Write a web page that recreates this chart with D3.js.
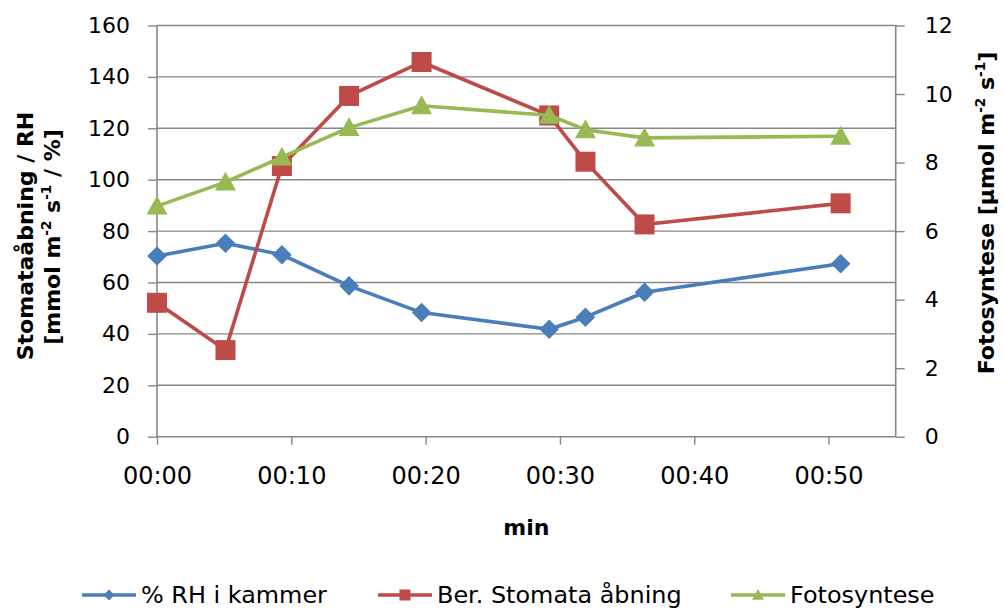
<!DOCTYPE html>
<html>
<head>
<meta charset="utf-8">
<script src="https://cdn.jsdelivr.net/npm/d3@7"></script>
<style>
  html, body { margin: 0; padding: 0; background: #fff; }
  svg { display: block; font-family: "DejaVu Sans", Verdana, sans-serif; }
</style>
</head>
<body>
<svg id="chart" width="1004" height="609"></svg>
<script>
// ---- data ----
const timesMin = [0, 5.1, 9.3, 14.3, 19.7, 29.2, 31.9, 36.3, 50.9];
const rhValues = [70.3, 75.3, 70.8, 58.7, 48.3, 41.8, 46.5, 56.2, 67.3];
const stomataValues = [52.1, 33.7, 105.3, 132.6, 145.8, 125.0, 107.0, 82.6, 90.8];
const fotoValues = [6.73, 7.43, 8.16, 9.02, 9.66, 9.38, 8.96, 8.72, 8.77];
const xTicks = [0, 10, 20, 30, 40, 50];
const leftTicks = [0, 20, 40, 60, 80, 100, 120, 140, 160];
const rightTicks = [0, 2, 4, 6, 8, 10, 12];
const seriesNames = ["% RH i kammer", "Ber. Stomata åbning", "Fotosyntese"];

// ---- layout ----
const svg = d3.select("#chart");
const L = 157, R = 895.7, T = 25.5, B = 436.7;
const gridColor = "#878787";
const colors = ["#4A7EBB", "#BE4B48", "#98B954"];
const fs = 22;

const x = d3.scaleLinear().domain([0, 55]).range([L, R]);
const yL = d3.scaleLinear().domain([0, 160]).range([B, T]);
const yR = d3.scaleLinear().domain([0, 12]).range([B, T]);

// gridlines
svg.append("g").selectAll("line").data(leftTicks.filter(d => d > 0)).join("line")
  .attr("x1", L).attr("x2", R).attr("y1", d => yL(d)).attr("y2", d => yL(d))
  .attr("stroke", gridColor).attr("stroke-width", 1.4);

// left axis
const gL = svg.append("g").attr("transform", `translate(${L},0)`)
  .call(d3.axisLeft(yL).tickValues(leftTicks).tickSize(9).tickPadding(18));
// right axis
const gR = svg.append("g").attr("transform", `translate(${R},0)`)
  .call(d3.axisRight(yR).tickValues(rightTicks).tickSize(9).tickPadding(20));
// bottom axis
const fmt = m => "00:" + String(m).padStart(2, "0");
const gB = svg.append("g").attr("transform", `translate(0,${B})`)
  .call(d3.axisBottom(x).tickValues(xTicks).tickFormat(fmt).tickSize(8).tickPadding(22));

[gL, gR, gB].forEach(g => {
  g.select(".domain").attr("stroke", gridColor).attr("stroke-width", 1.6);
  g.selectAll(".tick line").attr("stroke", gridColor).attr("stroke-width", 1.4);
  g.selectAll(".tick text").attr("font-size", fs).attr("fill", "#000")
    .attr("font-family", "DejaVu Sans, Verdana, sans-serif");
});
gB.selectAll(".tick text").attr("font-size", 24);
gL.select(".domain").attr("d", `M0,${B}V${T}`);
gR.select(".domain").attr("d", `M0,${B}V${T}`);
gB.select(".domain").attr("d", `M${L},0H${R}`);

// series
const series = [
  { vals: rhValues, y: yL, shape: "diamond" },
  { vals: stomataValues, y: yL, shape: "square" },
  { vals: fotoValues, y: yR, shape: "triangle" }
];

function markerPath(shape, s) {
  if (shape === "diamond") return `M0,${-s}L${s},0L0,${s}L${-s},0Z`;
  if (shape === "square") return `M${-s},${-s}H${s}V${s}H${-s}Z`;
  const h = s * 1.8;
  return `M0,${-h * 0.55}L${s},${h * 0.45}L${-s},${h * 0.45}Z`;
}
const markerSize = { diamond: 9.8, square: 10, triangle: 10.5 };

series.forEach((s, i) => {
  const pts = timesMin.map((t, j) => [x(t), s.y(s.vals[j])]);
  const g = svg.append("g");
  g.append("path").attr("d", d3.line()(pts)).attr("fill", "none")
    .attr("stroke", colors[i]).attr("stroke-width", 3.6).attr("stroke-linejoin", "round");
  g.selectAll("path.m").data(pts).join("path").attr("class", "m")
    .attr("transform", d => `translate(${d[0]},${d[1]})`)
    .attr("d", markerPath(s.shape, markerSize[s.shape]))
    .attr("fill", colors[i]);
});

// axis titles
svg.append("text").attr("x", (L + R) / 2).attr("y", 535).attr("text-anchor", "middle")
  .attr("font-size", fs).attr("font-weight", "bold").text("min");

function addSup(textSel, parts) {
  let raised = false;
  parts.forEach(p => {
    const ts = textSel.append("tspan").text(p.t);
    if (p.sup) {
      ts.attr("font-size", fs * 0.62).attr("dy", -9);
      raised = true;
    } else if (raised) {
      ts.attr("dy", 9);
      raised = false;
    }
  });
}

svg.append("text").attr("transform", "translate(33,236) rotate(-90)")
  .attr("text-anchor", "middle").attr("font-size", fs).attr("font-weight", "bold")
  .text("Stomataåbning / RH");
const lt2 = svg.append("text").attr("transform", "translate(60,237) rotate(-90)")
  .attr("text-anchor", "middle").attr("font-size", fs).attr("font-weight", "bold");
addSup(lt2, [{ t: "[mmol m" }, { t: "-2", sup: true }, { t: " s" }, { t: "-1", sup: true }, { t: " / %]" }]);

const rt = svg.append("text").attr("transform", "translate(994,213) rotate(-90)")
  .attr("text-anchor", "middle").attr("font-size", fs).attr("font-weight", "bold");
addSup(rt, [{ t: "Fotosyntese [µmol m" }, { t: "-2", sup: true }, { t: " s" }, { t: "-1", sup: true }, { t: "]" }]);

// legend
const legendX = [82, 378, 731];
const legendY = 595;
const legMarker = { diamond: 5.5, square: 5.5, triangle: 6 };
series.forEach((s, i) => {
  const g = svg.append("g").attr("transform", `translate(${legendX[i]},${legendY})`);
  g.append("line").attr("x1", 0).attr("x2", 54).attr("y1", 0).attr("y2", 0)
    .attr("stroke", colors[i]).attr("stroke-width", 3.6);
  g.append("path").attr("transform", "translate(27,0)")
    .attr("d", markerPath(s.shape, legMarker[s.shape])).attr("fill", colors[i]);
  g.append("text").attr("transform", "translate(59,8) scale(1.04,1)").attr("font-size", 23)
    .attr("fill", "#000").text(seriesNames[i]);
});
</script>
</body>
</html>
